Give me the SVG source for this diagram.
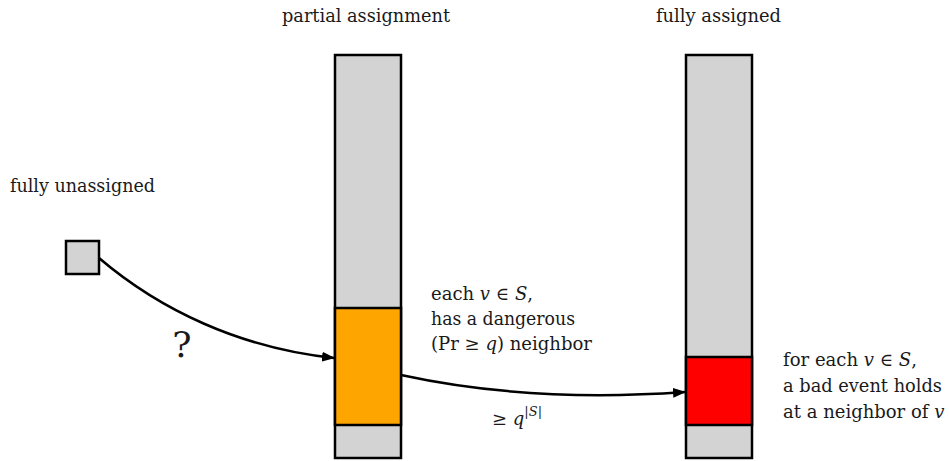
<svg xmlns="http://www.w3.org/2000/svg" width="949" height="461" viewBox="0 0 949 461">
<style>
text{font-family:'DejaVu Serif',serif;font-size:18px;fill:#1a1a1a}
.m{font-style:italic}
.box{stroke:#000;stroke-width:2.5}
.edge{fill:none;stroke:#000;stroke-width:2.5}
</style>
<defs>
<marker id="ah" markerWidth="13" markerHeight="10" refX="12" refY="5" orient="auto" markerUnits="userSpaceOnUse" viewBox="0 0 13 10">
<path d="M0,0 L13,5 L0,10 Z" fill="#000"/>
</marker>
</defs>
<rect width="949" height="461" fill="#fff"/>
<g id="unassigned">
<text x="10" y="192" textLength="145" lengthAdjust="spacingAndGlyphs">fully unassigned</text>
<rect class="box" x="66" y="241" width="33" height="33" fill="#d3d3d3"/>
</g>
<g id="partial">
<text x="282" y="22" textLength="168" lengthAdjust="spacingAndGlyphs">partial assignment</text>
<rect class="box" x="335" y="55" width="66" height="403" fill="#d3d3d3"/>
<rect class="box" x="335" y="308" width="66" height="117" fill="#ffa500"/>
<text x="431" y="300" textLength="102" lengthAdjust="spacingAndGlyphs">each <tspan class="m">v</tspan> ∈ <tspan class="m">S</tspan>,</text>
<text x="431" y="325" textLength="144" lengthAdjust="spacingAndGlyphs">has a dangerous</text>
<text x="431" y="350" textLength="161" lengthAdjust="spacingAndGlyphs">(Pr ≥ <tspan class="m">q</tspan>) neighbor</text>
</g>
<g id="full">
<text x="656" y="22" textLength="125" lengthAdjust="spacingAndGlyphs">fully assigned</text>
<rect class="box" x="686" y="55" width="66" height="403" fill="#d3d3d3"/>
<rect class="box" x="686" y="357" width="66" height="68" fill="#ff0000"/>
<text x="783" y="366" textLength="134" lengthAdjust="spacingAndGlyphs">for each <tspan class="m">v</tspan> ∈ <tspan class="m">S</tspan>,</text>
<text x="783" y="392" textLength="159" lengthAdjust="spacingAndGlyphs">a bad event holds</text>
<text x="783" y="418">at a neighbor of <tspan class="m">v</tspan></text>
</g>
<g id="connectors">
<path class="edge" d="M99,258 C160,310 240,348 334,358" marker-end="url(#ah)"/>
<text x="182" y="357" text-anchor="middle" style="font-size:36px">?</text>
<path class="edge" d="M401,375 C470,390 560,401 685,392" marker-end="url(#ah)"/>
<text x="492" y="425">≥ <tspan class="m">q</tspan><tspan class="m" dy="-9" style="font-size:13px">|S|</tspan></text>
</g>
</svg>
